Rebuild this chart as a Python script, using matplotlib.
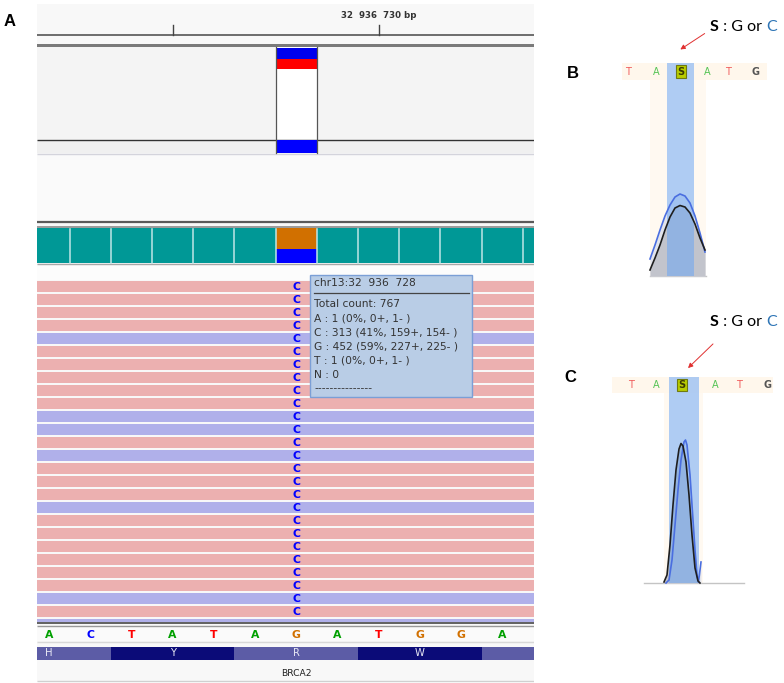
import matplotlib
matplotlib.use('Agg')
import matplotlib.pyplot as plt
from matplotlib.patches import Rectangle, FancyArrowPatch
from matplotlib.offsetbox import TextArea, HPacker, AnnotationBbox

W, H = 784, 683
fig = plt.figure(figsize=(W / 100, H / 100), dpi=100)
fig.patch.set_facecolor('white')

# ------------------------------------------------------------------ data
ref_start = 32936722
ref_bases = ['A', 'C', 'T', 'A', 'T', 'A', 'G', 'A', 'T', 'G', 'G', 'A']
variant_pos = 32936728
ruler_ticks = [32936725, 32936730]
ruler_labels = ['', '32  936  730 bp']
amino_acids = ['H', 'Y', 'R', 'W', '']
codon_first_base = [32936721, 32936724, 32936727, 32936730, 32936733]
coverage_counts = [767, 767, 767, 767, 767, 767, 767, 767, 767, 767, 767, 767, 767]
allele_counts = {'G': 452, 'C': 313}
allele_fraction = 0.49
read_strands = ['+', '+', '+', '+', '-', '+', '+', '+', '+', '+', '-', '-', '+', '-',
                '+', '+', '+', '-', '+', '+', '+', '+', '+', '+', '-', '+', '-']
read_base = 'C'
tooltip_lines = ['chr13:32  936  728', 'Total count: 767', 'A : 1 (0%, 0+, 1- )',
                 'C : 313 (41%, 159+, 154- )', 'G : 452 (59%, 227+, 225- )',
                 'T : 1 (0%, 0+, 1- )', 'N : 0', '---------------']
gene_name = 'BRCA2'

# Sanger traces (panel B, heterozygous sample)
trace_b_scan = [50, 55, 60, 65, 70, 75, 80, 85, 90, 95, 100, 105]
trace_b_black = [6, 18, 31, 46, 59, 68, 70.5, 69, 63, 52, 38, 26]
trace_b_blue = [17, 31, 46, 60, 71, 79, 82, 80, 73, 60, 43, 24]
calls_b = ['T', 'A', 'S', 'A', 'T', 'G']
calls_b_scan = [27.7, 56, 80.7, 107.7, 128.3, 155.7]

# Sanger traces (panel C)
trace_c_black_scan = [64, 67, 70, 73, 76, 79, 81, 83, 86, 89, 92, 95, 98, 100]
trace_c_black = [1, 8, 38, 78, 113, 134, 139.5, 137, 121, 88, 48, 15, 2, 0]
trace_c_blue_scan = [66, 69, 72, 75, 78, 81, 84, 85.5, 87, 90, 93, 95, 97, 98.5, 100, 101]
trace_c_blue = [0, 3, 23, 58, 93, 123, 141, 143, 138, 108, 63, 33, 8, 1, 13, 21]
calls_c = ['T', 'A', 'S', 'A', 'T', 'G']
calls_c_scan = [30.7, 56.7, 82.3, 115, 139, 167.7]

base_colors = {'A': '#00a000', 'C': '#0000ff', 'T': '#ff0000', 'G': '#d17000'}
sanger_colors = {'A': '#55c455', 'T': '#f05a5a', 'G': '#555555', 'S': '#3a3a00'}

# ------------------------------------------------------------------ panel A (IGV)
px_left, px_right = 37, 534
ax = fig.add_axes([px_left / W, 0, (px_right - px_left) / W, 1])
x0 = ref_start - 0.29
x1 = ref_start + 11.77
ax.set_xlim(x0, x1)
ax.set_ylim(H, 0)
ax.axis('off')
span = x1 - x0

def hrect(y_top, y_bot, color, z=1, xa=x0, xb=x1, **kw):
    ax.add_patch(Rectangle((xa, y_top), xb - xa, y_bot - y_top, facecolor=color,
                           edgecolor='none', zorder=z, **kw))

def hline(y, color, lw, z=3):
    ax.plot([x0, x1], [y, y], color=color, lw=lw, zorder=z, solid_capstyle='butt')

# panel background
hrect(4, 682, '#f8f8f8', z=0)

# ruler
hline(34.5, '#555555', 1.2)
for t, lab in zip(ruler_ticks, ruler_labels):
    ax.plot([t, t], [24.5, 34.5], color='#444444', lw=1.0, zorder=3)
    if lab:
        ax.text(t, 16, lab, ha='center', va='center', fontsize=6.2, fontweight='bold',
                color='#333333', family='DejaVu Sans')

# track separator
hrect(43.5, 47, '#7a7a7a', z=3)

# variant track
hrect(47, 139, '#f4f4f4', z=1)
vx0, vx1 = variant_pos - 0.5, variant_pos + 0.5
hrect(47, 139, 'white', z=2, xa=vx0, xb=vx1)
hrect(47.5, 58.5, '#0000ee', z=3, xa=vx0, xb=vx1)
hrect(58.5, 58.5 + 21.5 * allele_fraction, '#ff0000', z=3, xa=vx0, xb=vx1)
hline(139.5, '#333333', 1.0)
hrect(140, 152.5, '#f0f0f0', z=1)
hrect(140, 152.5, '#0000ff', z=3, xa=vx0, xb=vx1)
for vx in (vx0, vx1):
    ax.plot([vx, vx], [47, 152.5], color='#555555', lw=0.9, zorder=4)
hline(153.5, '#d4d4dc', 1.0)
hrect(154, 221, '#fafafa', z=1)

# coverage track separator
hline(221.8, '#5a5a5a', 1.6)
hline(226.5, '#8a8a8a', 1.2)

# coverage bars (one extra, partly visible position at the right edge)
cov_bottom, cov_h = 262.7, 34.4
cov_max = max(coverage_counts)
cov_positions = [ref_start + i for i in range(len(coverage_counts))]
positions = [ref_start + i for i in range(len(ref_bases))]
cov_clip = Rectangle((x0, 200), span, 100, transform=ax.transData)
for p, c in zip(cov_positions, coverage_counts):
    if p == variant_pos:
        bottom = cov_bottom
        for allele in ['C', 'G']:
            h = cov_h * allele_counts[allele] / c
            ax.bar(p, -h, bottom=bottom, width=1.0, color=base_colors[allele],
                   edgecolor='none', zorder=3)
            bottom -= h
    else:
        bars = ax.bar(p, -cov_h * c / cov_max, bottom=cov_bottom, width=1.0,
                      color='#009896', edgecolor='none', zorder=3)
        for bar in bars:
            bar.set_clip_path(cov_clip)
for p in cov_positions[:-1]:
    ax.plot([p + 0.5, p + 0.5], [228.5, 262.5], color='#bfe6e6', lw=1.1, zorder=4)
hline(264, '#a8a8a8', 1.0)
hrect(265, 280, '#fcfcfc', z=1)

# reads
clip = Rectangle((x0, 275), span, 622 - 275, transform=ax.transData)
read_top0, read_pitch, read_h = 281, 13, 11
for k, s in enumerate(read_strands):
    yc = read_top0 + read_pitch * k + read_h / 2
    col = '#ecb0b0' if s == '+' else '#b0b0ea'
    bars = ax.barh(yc, span + 1, left=x0 - 0.5, height=read_h, color=col,
                   edgecolor='none', zorder=3)
    for bar in bars:
        bar.set_clip_path(clip)
    if yc + 4 < 622:
        ax.text(variant_pos, yc + 0.5, read_base, ha='center', va='center', fontsize=7.8,
                fontweight='bold', color='#0000ff', zorder=4, family='DejaVu Sans')

# tooltip
tx0, tx1, ty0, ty1 = 310.5, 472, 275, 397
def px_to_x(px):
    return x0 + (px - px_left) / (px_right - px_left) * span
ax.add_patch(Rectangle((px_to_x(tx0), ty0), px_to_x(tx1) - px_to_x(tx0), ty1 - ty0,
                       facecolor='#b9cde6', edgecolor='#7b9fd6', lw=1.0, zorder=6))
line_y = [283, 304, 318.5, 332.5, 346.5, 360.5, 374.5, 388]
for ly, txt in zip(line_y, tooltip_lines):
    ax.text(px_to_x(314), ly, txt, ha='left', va='center', fontsize=7.7, color='#333333',
            zorder=7, family='DejaVu Sans')
ax.plot([px_to_x(314), px_to_x(469)], [292.5, 292.5], color='#444444', lw=0.9, zorder=7)

# sequence track
hline(623, '#555555', 1.3)
hline(626, '#999999', 1.0)
hrect(627, 641, '#fafafa', z=1)
for p, b in zip(positions, ref_bases):
    ax.text(p, 634.5, b, ha='center', va='center', fontsize=7.8, fontweight='bold',
            color=base_colors[b], zorder=4, family='DejaVu Sans')
hline(642, '#d8d8d8', 1.0)

# translation track
for i, (aa, first) in enumerate(zip(amino_acids, codon_first_base)):
    col = '#5c5ca6' if i % 2 == 0 else '#0b0b78'
    ax.bar(first + 1, 13.2, bottom=646.5, width=3.0, color=col, edgecolor='none', zorder=3)
    if aa:
        ax.text(first + 1, 653.3, aa, ha='center', va='center', fontsize=7.2,
                color='#e8e8f4', zorder=4, family='DejaVu Sans')

# gene track
ax.text(variant_pos, 673, gene_name, ha='center', va='center', fontsize=6.6,
        color='#222222', zorder=4, family='DejaVu Sans')
hline(680.5, '#d0d0d0', 1.0)

# ------------------------------------------------------------------ panel labels
fig.text(10 / W, 1 - 22 / H, 'A', ha='center', va='center', fontsize=12,
         fontweight='bold', family='Liberation Sans')
fig.text(573 / W, 1 - 73 / H, 'B', ha='center', va='center', fontsize=12,
         fontweight='bold', family='Liberation Sans')
fig.text(570 / W, 1 - 377 / H, 'C', ha='center', va='center', fontsize=12,
         fontweight='bold', family='Liberation Sans')

# ------------------------------------------------------------------ Sanger panels
def sanger_panel(px_box, base_px, calls, calls_scan, strip, cream, column, baseline,
                 traces, label_y_px, arrow):
    l, t, r, b = px_box
    a = fig.add_axes([l / W, 1 - b / H, (r - l) / W, (b - t) / H])
    a.set_xlim(0, r - l)
    a.set_ylim(-(b - base_px), base_px - t)
    a.axis('off')
    sx0, sx1, sy0, sy1 = strip
    a.add_patch(Rectangle((sx0, sy0), sx1 - sx0, sy1 - sy0, facecolor='#fff7ec',
                          edgecolor='none', zorder=0))
    cx0, cx1 = cream
    a.add_patch(Rectangle((cx0, 0), cx1 - cx0, sy0, facecolor='#fff9f1',
                          edgecolor='none', zorder=0))
    bx0, bx1 = baseline
    a.plot([bx0, bx1], [0, 0], color='#c4c4c4', lw=1.0, zorder=1)
    (xs_k, ys_k), (xs_b, ys_b) = traces
    a.fill_between(xs_b, 0, ys_b, color='#e2e4ec', lw=0, zorder=1)
    a.fill_between(xs_k, 0, ys_k, color='#c2c4cc', lw=0, zorder=2)
    col0, col1 = column
    a.add_patch(Rectangle((col0, 0), col1 - col0, sy1, facecolor='#66a4f6', alpha=0.52,
                          edgecolor='none', zorder=3))
    a.plot(xs_b, ys_b, color='#4a6ee0', lw=1.2, zorder=4)
    a.plot(xs_k, ys_k, color='#1e1e1e', lw=1.2, zorder=5)
    ly = (sy0 + sy1) / 2
    for c, xs in zip(calls, calls_scan):
        if c == 'S':
            a.text(xs, ly, c, ha='center', va='center', fontsize=7, color='#3a3a00',
                   fontweight='bold', zorder=7, family='DejaVu Sans',
                   bbox=dict(boxstyle='square,pad=0.14', facecolor='#b8cc00',
                             edgecolor='#6f7a10', lw=0.8))
        else:
            a.text(xs, ly, c, ha='center', va='center', fontsize=7,
                   color=sanger_colors[c], zorder=6, family='DejaVu Sans',
                   fontweight='bold' if c == 'G' else 'normal')
    parts = [TextArea('S', textprops=dict(fontsize=11.5, fontweight='bold', color='black',
                                         family='Lato')),
             TextArea(' : G or ', textprops=dict(fontsize=11.5, color='black', family='Lato')),
             TextArea('C', textprops=dict(fontsize=11.5, color='#2e75b6', family='Lato'))]
    pack = HPacker(children=parts, align='baseline', pad=0, sep=0)
    ab = AnnotationBbox(pack, (710, H - label_y_px), xycoords='figure pixels',
                        box_alignment=(0, 0.5), frameon=False)
    fig.add_artist(ab)
    (ax_t, ay_t), (ax_h, ay_h) = arrow
    fig.add_artist(FancyArrowPatch(
        (ax_t, H - ay_t), (ax_h, H - ay_h), transform=None,
        arrowstyle='-|>', mutation_scale=7, color='#e03030', lw=0.7))
    return a

sanger_panel((600, 55, 784, 282), 276, calls_b, calls_b_scan,
             strip=(21.7, 166.7, 196, 213), cream=(50, 105.7), column=(67.3, 94.3),
             baseline=(50, 105.7),
             traces=((trace_b_scan, trace_b_black), (trace_b_scan, trace_b_blue)),
             label_y_px=27, arrow=((707, 32), (678, 51)))

sanger_panel((600, 370, 784, 590), 583, calls_c, calls_c_scan,
             strip=(11.7, 173, 190.3, 205.7), cream=(64, 103), column=(69.3, 99.3),
             baseline=(44, 144),
             traces=((trace_c_black_scan, trace_c_black), (trace_c_blue_scan, trace_c_blue)),
             label_y_px=322, arrow=((715, 342), (686, 370)))

fig.savefig('out.png', dpi=100, facecolor='white')
